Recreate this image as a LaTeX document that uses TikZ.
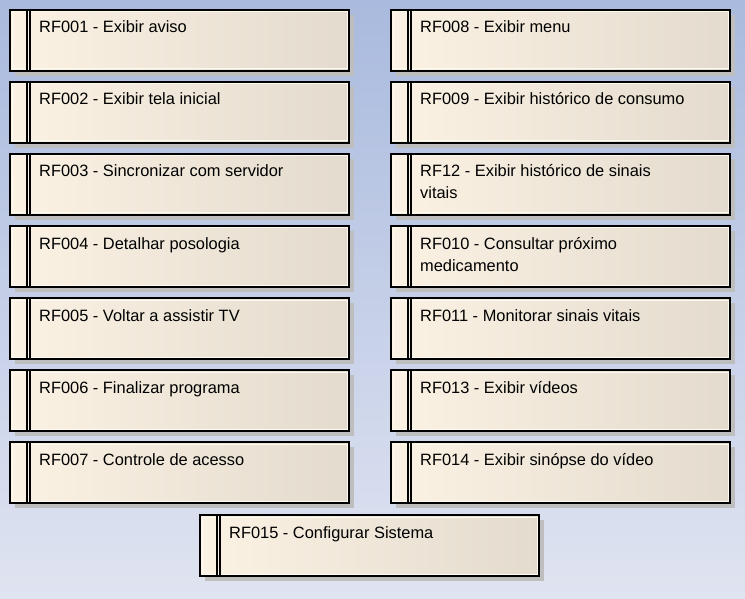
\documentclass[tikz,border=0pt]{standalone}
\usepackage{fontspec}
\setmainfont{Liberation Sans}
\usetikzlibrary{shadows}
\definecolor{bgtop}{RGB}{169,186,222}
\definecolor{bgbot}{RGB}{224,228,241}
\definecolor{boxL}{RGB}{251,242,228}
\definecolor{boxR}{RGB}{227,219,205}
\definecolor{shadowgray}{RGB}{190,190,190}
\definecolor{hlc}{RGB}{253,250,242}
\tikzset{
  rf/.style={draw=black, line width=2pt, minimum width=339pt, minimum height=61pt,
    anchor=north west, inner sep=0pt, outer sep=0pt, left color=boxL, right color=boxR,
    drop shadow={shadow xshift=5pt, shadow yshift=-5pt, fill=shadowgray, opacity=1}},
  hl/.style={draw=hlc, line width=1pt},
  bar/.style={draw=black, line width=2pt},
  lbl/.style={anchor=base west, inner sep=0pt, font=\fontsize{16.4}{22}\selectfont}
}
\newcommand{\rfbox}[4]{%
  \node[rf] (#1) at (#2,#3) {};
  \draw[hl] ([shift={(2,2)}]#1.north west) rectangle ([shift={(-2,-2)}]#1.south east);
  \draw[bar] ([xshift=17pt]#1.north west) -- ([xshift=17pt]#1.south west);
  \draw[bar] ([xshift=20pt]#1.north west) -- ([xshift=20pt]#1.south west);
  \node[lbl] (#1t) at ([shift={(29,23)}]#1.north west) {\begin{tabular}[t]{@{}l@{}}#4\end{tabular}};
}
\begin{document}
\begin{tikzpicture}[x=1pt,y=-1pt]
\useasboundingbox (0,0) rectangle (745,599);
\shade[top color=bgtop, bottom color=bgbot] (0,0) rectangle (745,599);
\rfbox{r1}{10}{10}{RF001 - Exibir aviso}
\rfbox{r2}{10}{82}{RF002 - Exibir tela inicial}
\rfbox{r3}{10}{154}{RF003 - Sincronizar com servidor}
\rfbox{r4}{10}{226}{RF004 - Detalhar posologia}
\rfbox{r5}{10}{298}{RF005 - Voltar a assistir TV}
\rfbox{r6}{10}{370}{RF006 - Finalizar programa}
\rfbox{r7}{10}{442}{RF007 - Controle de acesso}
\rfbox{r8}{391}{10}{RF008 - Exibir menu}
\rfbox{r9}{391}{82}{RF009 - Exibir histórico de consumo}
\rfbox{r12}{391}{154}{RF12 - Exibir histórico de sinais\\vitais}
\rfbox{r10}{391}{226}{RF010 - Consultar próximo\\medicamento}
\rfbox{r11}{391}{298}{RF011 - Monitorar sinais vitais}
\rfbox{r13}{391}{370}{RF013 - Exibir vídeos}
\rfbox{r14}{391}{442}{RF014 - Exibir sinópse do vídeo}
\rfbox{r15}{200}{515}{RF015 - Configurar Sistema}
\end{tikzpicture}
\end{document}
